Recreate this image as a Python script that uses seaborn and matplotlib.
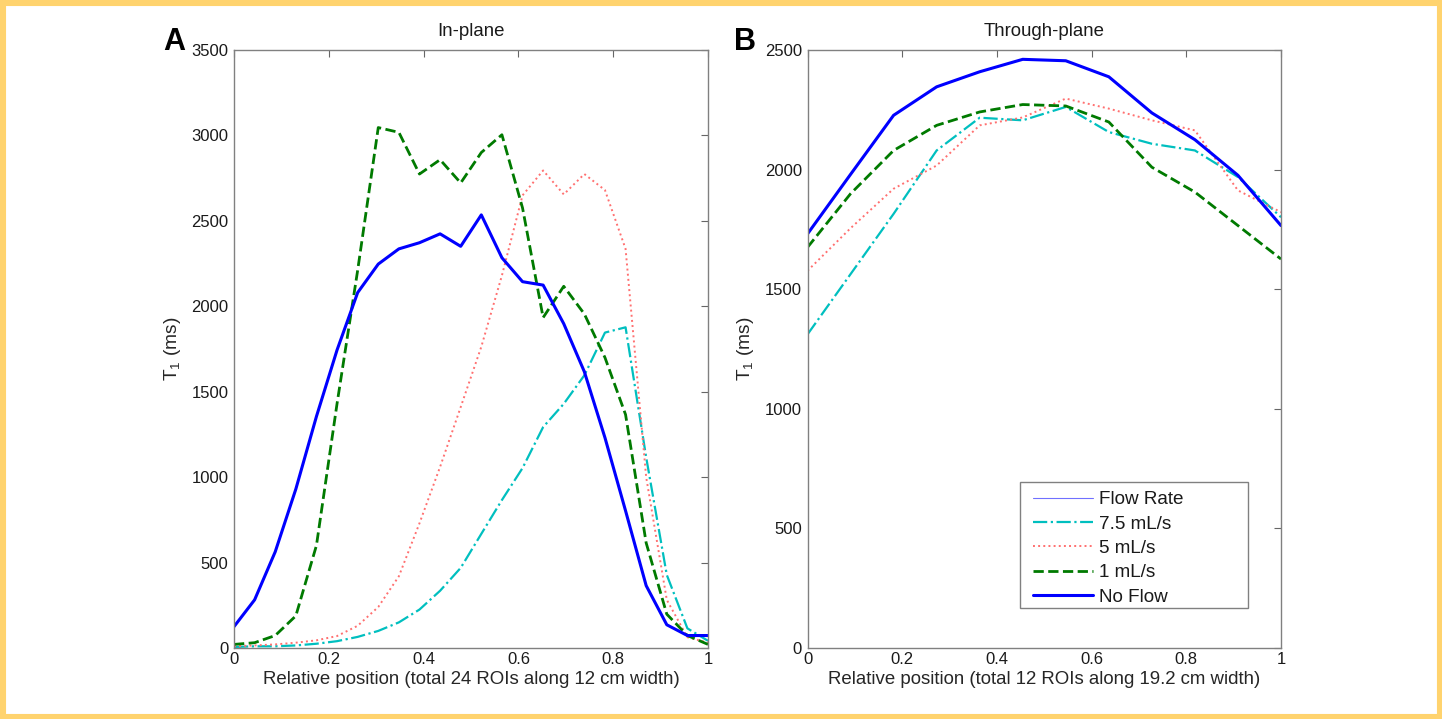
import numpy as np
import pandas as pd
import matplotlib
matplotlib.use("Agg")
import matplotlib.pyplot as plt
import seaborn as sns
from matplotlib.lines import Line2D
from matplotlib.patches import Rectangle

# ---------------- data ----------------
# Panel A: in-plane, 24 ROIs
n_in = 24
in_no_flow = [125, 282, 563, 930, 1355, 1744, 2080, 2247, 2336, 2372, 2424, 2351,
              2535, 2284, 2144, 2124, 1898, 1617, 1231, 803, 365, 136, 73, 73]
in_1ml = [21, 31, 73, 188, 600, 1430, 2210, 3046, 3018, 2774, 2858, 2722,
          2900, 3004, 2576, 1934, 2117, 1955, 1700, 1366, 615, 198, 73, 21]
in_5ml = [10, 15, 21, 31, 45, 70, 130, 240, 420, 730, 1060, 1410,
          1763, 2180, 2649, 2795, 2655, 2774, 2680, 2336, 1000, 282, 63, 31]
in_75ml = [6, 10, 10, 15, 25, 40, 65, 100, 150, 225, 335, 469,
           668, 866, 1053, 1293, 1429, 1596, 1846, 1877, 1116, 428, 115, 42]

# Panel B: through-plane, 12 ROIs
n_th = 12
th_no_flow = [1731, 1980, 2227, 2346, 2409, 2461, 2455, 2388, 2237, 2125, 1976, 1766]
th_1ml = [1675, 1899, 2080, 2185, 2241, 2272, 2266, 2199, 2010, 1906, 1766, 1626]
th_5ml = [1577, 1755, 1920, 2017, 2185, 2218, 2297, 2255, 2206, 2164, 1913, 1822]
th_75ml = [1311, 1563, 1815, 2080, 2217, 2206, 2262, 2157, 2108, 2080, 1969, 1801]

series_labels = ["7.5 mL/s", "5 mL/s", "1 mL/s", "No Flow"]
legend_title_entry = "Flow Rate"
x_ticks = [0, 0.2, 0.4, 0.6, 0.8, 1]
x_tick_labels = ["0", "0.2", "0.4", "0.6", "0.8", "1"]
yA_ticks = [0, 500, 1000, 1500, 2000, 2500, 3000, 3500]
yB_ticks = [0, 500, 1000, 1500, 2000, 2500]
titles = ["In-plane", "Through-plane"]
xlabels = ["Relative position (total 24 ROIs along 12 cm width)",
           "Relative position (total 12 ROIs along 19.2 cm width)"]
ylabel = r"T$_\mathregular{1}$ (ms)"
panel_letters = ["A", "B"]

# ---------------- style ----------------
sns.set_theme(style="white")
plt.rcParams["font.family"] = ["Liberation Sans", "DejaVu Sans"]
plt.rcParams["text.color"] = "#1a1a1a"

styles = {
    "7.5 mL/s": dict(color="#00BFBF", linestyle="-.", lw=1.6),
    "5 mL/s": dict(color="#FF7070", linestyle=":", lw=1.4),
    "1 mL/s": dict(color="#007A00", linestyle="--", lw=2.0),
    "No Flow": dict(color="#0000FF", linestyle="-", lw=2.2),
}

fig = plt.figure(figsize=(14.42, 7.19), dpi=100)
W, H = 1442, 719
axA = fig.add_axes([234 / W, (H - 648) / H, 474 / W, 598 / H])
axB = fig.add_axes([807.5 / W, (H - 648) / H, 473.5 / W, 598 / H])


def make_df(n, vals):
    x = np.arange(n) / (n - 1)
    frames = []
    for lab, v in zip(series_labels, vals):
        frames.append(pd.DataFrame({"pos": x, "T1": v, "series": lab}))
    return pd.concat(frames, ignore_index=True)


dfA = make_df(n_in, [in_75ml, in_5ml, in_1ml, in_no_flow])
dfB = make_df(n_th, [th_75ml, th_5ml, th_1ml, th_no_flow])

for ax, df in [(axA, dfA), (axB, dfB)]:
    for lab in series_labels:
        sub = df[df["series"] == lab]
        sns.lineplot(data=sub, x="pos", y="T1", ax=ax, label=lab, legend=False,
                     **styles[lab])


def style_ax(ax, yticks, title, xlabel):
    ax.set_xlim(0, 1)
    ax.set_ylim(yticks[0], yticks[-1])
    ax.set_xticks(x_ticks)
    ax.set_xticklabels(x_tick_labels)
    ax.set_yticks(yticks)
    ax.set_yticklabels([str(t) for t in yticks])
    ax.tick_params(direction="in", top=True, right=True, length=5, width=0.8,
                   color="#666666", labelsize=12, pad=3, labelcolor="#1a1a1a")
    ax.tick_params(axis="y", pad=4)
    for sp in ax.spines.values():
        sp.set_color("#808080")
        sp.set_linewidth(1.0)
        sp.set_visible(True)
    ax.set_title(title, fontsize=13.4, pad=10)
    ax.set_xlabel(xlabel, fontsize=13.4, labelpad=3)
    ax.set_ylabel(ylabel, fontsize=13.8, labelpad=6)
    ax.set_facecolor("white")
    ax.grid(False)


style_ax(axA, yA_ticks, titles[0], xlabels[0])
style_ax(axB, yB_ticks, titles[1], xlabels[1])

# legend in panel B (frame drawn separately, MATLAB-style wide box)
axB.add_patch(Rectangle(((1020 - 807.5) / 473.5, (648 - 608) / 598),
                        (1248 - 1020) / 473.5, (608 - 482) / 598,
                        transform=axB.transAxes, fill=True, fc="white",
                        ec="#808080", lw=1.0, zorder=4))
handles = [Line2D([], [], color="#7070FF", lw=0.8, linestyle="-")]
for lab in series_labels:
    handles.append(Line2D([], [], **styles[lab]))
labels = [legend_title_entry] + series_labels
leg = axB.legend(handles, labels, loc="upper left",
                 bbox_to_anchor=((1033 - 807.5) / 473.5, (648 - 491) / 598),
                 fontsize=13.6, frameon=False, handlelength=3.15,
                 handletextpad=0.32, labelspacing=0.38, borderpad=0.0,
                 borderaxespad=0.0)
leg.set_zorder(5)

# panel letters
fig.text(163 / W, (H - 50) / H, panel_letters[0], fontsize=22, weight="bold",
         va="baseline", ha="left", color="black")
fig.text(734 / W, (H - 50) / H, panel_letters[1], fontsize=22, weight="bold",
         va="baseline", ha="left", color="black")

# outer border
fig.add_artist(Rectangle((0, 0), 1, 1, transform=fig.transFigure, fill=False,
                         ec="#FFD36E", lw=8))

fig.savefig("out.png", dpi=100, facecolor="white")
